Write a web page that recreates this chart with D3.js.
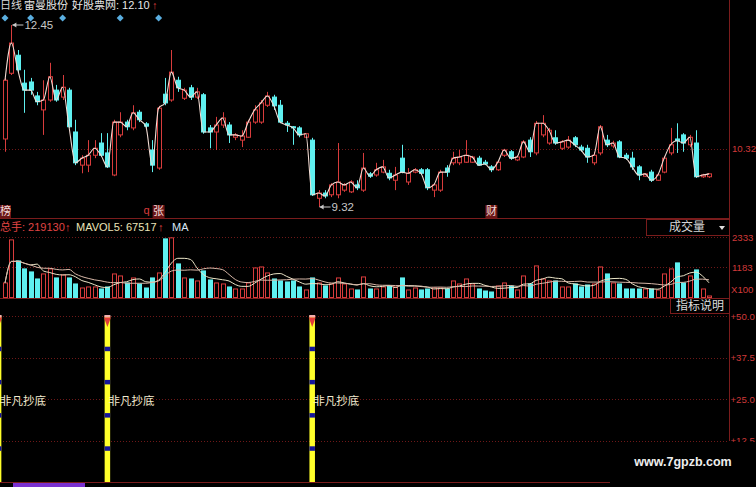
<!DOCTYPE html>
<html><head><meta charset="utf-8">
<script src="https://cdn.jsdelivr.net/npm/d3@7/dist/d3.min.js"></script>
<style>
html,body{margin:0;padding:0;background:#000;overflow:hidden}
svg{display:block}
text{font-family:"Liberation Sans","Noto Sans CJK SC",sans-serif}
</style></head><body>
<svg id="c" width="756" height="487"></svg>
<script>
// ---- data ----
const openP = [10.49,11.62,11.93,11.45,11.47,11.23,10.99,11.16,11.33,11.21,
11.33,10.61,10.04,10.04,10.21,10.42,10.25,9.87,10.56,10.78,
10.68,10.95,10.75,10.30,9.99,11.26,11.16,11.50,11.19,11.37,
11.21,11.25,10.68,10.61,10.73,10.73,10.52,10.47,10.52,10.78,
10.78,11.07,11.21,11.07,10.76,10.70,10.68,10.52,10.47,9.47,
9.56,9.53,9.53,9.61,9.58,9.70,9.61,9.89,9.87,9.92,
9.90,9.78,10.16,9.75,9.92,9.96,9.96,9.61,9.61,9.99,
10.08,10.08,10.09,10.09,10.16,10.09,10.01,9.96,10.21,10.27,
10.13,10.18,10.47,10.25,10.56,10.42,10.51,10.33,10.35,10.51,
10.35,10.33,10.08,10.25,10.47,10.37,10.44,10.21,10.16,10.01,
9.85,9.92,9.78,9.92,10.25,10.49,10.56,10.39,10.42,9.84,
9.84];
const closeP = [11.50,12.14,11.68,11.33,11.33,11.13,11.16,11.56,11.16,11.38,
10.70,10.08,10.16,10.21,10.33,10.21,10.01,10.78,10.78,10.70,
10.94,10.82,10.71,10.04,11.02,11.11,11.64,11.37,11.33,11.21,
11.30,10.61,10.61,10.73,10.85,10.56,10.56,10.54,10.78,10.99,
11.11,11.23,11.06,10.78,10.73,10.68,10.56,10.58,9.53,9.56,
9.51,9.70,9.75,9.70,9.75,9.65,9.99,9.85,9.96,10.01,
9.82,9.87,9.92,9.90,9.96,9.90,9.65,9.70,9.92,9.92,
10.16,10.18,10.21,10.18,10.04,10.06,9.96,10.09,10.30,10.16,
10.18,10.44,10.27,10.76,10.76,10.64,10.42,10.44,10.47,10.39,
10.30,10.18,10.21,10.70,10.39,10.42,10.18,10.16,10.01,9.87,
9.89,9.78,9.87,10.16,10.39,10.46,10.42,10.52,9.84,9.87,
9.89];
const highP = [11.54,12.45,12.02,11.68,11.54,11.30,11.50,11.80,11.42,11.59,
11.37,10.82,10.21,10.47,10.47,10.59,10.59,10.82,10.95,10.82,
11.07,10.99,10.78,10.47,11.06,11.54,12.02,11.56,11.37,11.42,
11.37,11.28,10.73,10.87,10.95,10.78,10.59,10.64,10.82,11.07,
11.16,11.30,11.25,11.16,10.80,10.71,10.71,10.59,10.51,9.61,
9.61,9.73,10.42,9.73,9.78,9.78,10.25,9.92,10.08,10.13,
9.96,10.01,10.39,9.99,9.99,9.99,9.99,9.72,9.96,10.04,
10.27,10.30,10.47,10.20,10.20,10.13,10.04,10.11,10.32,10.30,
10.21,10.47,10.52,10.80,10.90,10.68,10.64,10.47,10.54,10.54,
10.39,10.39,10.27,10.73,10.56,10.46,10.47,10.25,10.27,10.04,
9.90,9.96,9.89,10.20,10.68,10.76,10.59,10.56,10.64,9.89,
9.90];
const lowP = [10.27,11.59,11.64,10.94,11.25,11.07,10.56,11.13,11.13,11.16,
10.68,10.04,9.90,9.92,10.16,10.18,9.99,9.85,10.52,10.64,
10.64,10.78,10.68,9.92,9.96,11.07,11.13,11.30,11.16,11.16,
11.18,10.58,10.33,10.30,10.68,10.42,10.47,10.35,10.51,10.75,
10.75,11.04,10.99,10.76,10.61,10.39,10.52,10.51,9.51,9.32,
9.47,9.49,9.47,9.58,9.56,9.61,9.58,9.82,9.84,9.90,
9.78,9.61,9.90,9.70,9.90,9.87,9.61,9.49,9.58,9.84,
10.04,10.04,10.08,10.08,10.03,10.04,9.92,9.94,10.18,10.13,
10.11,10.16,10.18,10.21,10.52,10.39,10.39,10.30,10.32,10.35,
10.27,10.08,10.04,10.21,10.35,10.33,10.16,10.13,9.96,9.78,
9.84,9.75,9.77,9.90,10.21,10.25,10.27,10.35,9.82,9.82,
9.82];
const volume = [57500,222300,141800,111200,99700,72800,92000,111200,76700,88200,
76700,53700,38300,42200,42200,34500,42200,92000,84300,57500,
76700,53700,38300,76700,95800,226100,230000,130300,76700,72800,
65200,103500,69000,57500,53700,42200,34500,34500,57500,115000,
118800,95800,72800,65200,61300,65200,42200,30700,76700,57500,
46000,53700,76700,53700,34500,30700,80500,34500,34500,42200,
46000,42200,76700,30700,38300,30700,34500,38300,38300,34500,
65200,53700,72800,53700,34500,26800,23000,46000,57500,46000,
30700,84300,53700,122700,72800,65200,65200,42200,42200,53700,
42200,49800,53700,118800,92000,57500,53700,34500,34500,34500,
34500,34500,30700,92000,111200,134200,57500,84300,107300,34500,
7700];
const signalIdx = [-1, 16, 48];
const signalValue = 50;
const signalBands = [10, 20, 30, 40];
const signalText = "非凡抄底";
const signalTextLevel = 24;
const markerIdx = [0, 4, 9, 18, 24];
const eventLabels = [{i:0,t:"榜"},{i:24,t:"张"},{i:76,t:"财"}];
const priceTicks = [10.32];
const volTicks = [233300, 118300];
const sigTicks = [50, 37.5, 25, 12.5];

// ---- drawing ----
const W=756,H=487;
const svg=d3.select("#c");
svg.append("rect").attr("width",W).attr("height",H).attr("fill","#000");
const N=closeP.length;
const x=d3.scaleLinear().domain([0,110]).range([5,709]);
const yP=d3.scaleLinear().domain([9.32,12.45]).range([207,25]);
const yV=d3.scaleLinear().domain([0,233300]).range([298,237]);
const yS=d3.scaleLinear().domain([0,50]).range([482,316]);
const RED="#d83c3c", CYAN="#5ff0f0", AXC="#d03a3a", GRID="#6e1818", LINE="#7a1c1c";
const idx=d3.range(N);
const up=i=>closeP[i]>=openP[i];

// gridlines
const grid=svg.append("g").attr("stroke",GRID).attr("stroke-dasharray","1,2");
grid.selectAll(".gp").data(priceTicks).join("line").attr("x1",0).attr("x2",729).attr("y1",d=>Math.round(yP(d))+0.5).attr("y2",d=>Math.round(yP(d))+0.5);
grid.selectAll(".gv").data(volTicks).join("line").attr("x1",0).attr("x2",729).attr("y1",d=>Math.round(yV(d))+0.5).attr("y2",d=>Math.round(yV(d))+0.5);
grid.selectAll(".gs").data(sigTicks).join("line").attr("x1",0).attr("x2",729).attr("y1",d=>Math.round(yS(d))+0.5).attr("y2",d=>Math.round(yS(d))+0.5);

// panel separators
const sep=svg.append("g").attr("stroke",LINE);
[218.5,298.5,482.5].forEach(y=>sep.append("line").attr("x1",0).attr("x2",729).attr("y1",y).attr("y2",y));
sep.append("line").attr("x1",729.5).attr("x2",729.5).attr("y1",0).attr("y2",441);

// axis labels
const ax=svg.append("g").attr("font-size",9.6).attr("fill",AXC).attr("dominant-baseline","middle");
ax.selectAll(".tp").data(priceTicks).join("text").attr("x",732).attr("y",d=>yP(d)+1).text(d=>d3.format(".2f")(d));
ax.selectAll(".tv").data(volTicks).join("text").attr("x",732).attr("y",d=>yV(d)+1).text(d=>d3.format("d")(Math.round(d/100)));
ax.append("text").attr("x",731).attr("y",290).text("X100");
ax.selectAll(".ts").data(sigTicks).join("text").attr("x",730.5).attr("y",d=>yS(d)+1).text(d=>"+"+d3.format(".1f")(d));

// candles
const cg=svg.append("g");
cg.selectAll(".w").data(idx).join("line")
 .attr("x1",i=>Math.round(x(i))+0.5).attr("x2",i=>Math.round(x(i))+0.5)
 .attr("y1",i=>yP(highP[i])).attr("y2",i=>yP(lowP[i]))
 .attr("stroke",i=>up(i)?RED:CYAN).attr("stroke-width",1);
cg.selectAll(".b").data(idx).join("rect")
 .attr("x",i=>Math.round(x(i))-1.5).attr("width",4)
 .attr("y",i=>yP(Math.max(openP[i],closeP[i])))
 .attr("height",i=>Math.max(1,Math.abs(yP(openP[i])-yP(closeP[i]))))
 .attr("fill",i=>up(i)?"#000":CYAN)
 .attr("stroke",i=>up(i)?RED:CYAN).attr("stroke-width",1);

// close line
svg.append("path").datum(idx)
 .attr("d",d3.line().x(i=>x(i)).y(i=>yP(closeP[i])).curve(d3.curveMonotoneX))
 .attr("fill","none").attr("stroke","#f2dcd4").attr("stroke-width",1.1);

// high / low markers
const hi=d3.maxIndex(highP), lo=d3.minIndex(lowP);
function marker(i,v){
  const yy=yP(v), xx=x(i)+1;
  const g=svg.append("g");
  g.append("line").attr("x1",xx).attr("x2",xx+11).attr("y1",yy).attr("y2",yy).attr("stroke","#c8c8c8");
  g.append("path").attr("d",`M${xx},${yy}L${xx+4},${yy-2.5}L${xx+4},${yy+2.5}Z`).attr("fill","#c8c8c8");
  g.append("text").attr("x",xx+12).attr("y",yy+1).attr("dominant-baseline","middle")
   .attr("font-size",11.5).attr("fill","#c8c8c8").text(d3.format(".2f")(v));
}
marker(hi,highP[hi]); marker(lo,lowP[lo]);

// diamonds
svg.selectAll(".dm").data(markerIdx).join("path")
 .attr("d",i=>{const cx=x(i),cy=18;return `M${cx},${cy-3.5}L${cx+3.5},${cy}L${cx},${cy+3.5}L${cx-3.5},${cy}Z`;})
 .attr("fill","#5aaee0");

// event labels
const ev=svg.append("g");
ev.selectAll("rect").data(eventLabels).join("rect")
 .attr("x",d=>x(d.i)-6).attr("y",205).attr("width",12).attr("height",13).attr("fill","#6a1616");
ev.selectAll("text").data(eventLabels).join("text")
 .attr("x",d=>Math.max(x(d.i),5.5)).attr("y",212).attr("text-anchor","middle").attr("dominant-baseline","middle")
 .attr("font-size",11).attr("fill","#f2dada").text(d=>d.t);
svg.append("text").attr("x",x(24)-15).attr("y",211).attr("dominant-baseline","middle")
 .attr("font-size",11).attr("fill",RED).text("q");

// title
const tt=svg.append("g").attr("font-size",11).attr("dominant-baseline","middle");
tt.append("text").attr("x",0).attr("y",6).attr("fill","#d8d8d8").text("日线");
tt.append("text").attr("x",24).attr("y",6).attr("fill","#e8e8e8").text("雷曼股份");
tt.append("text").attr("x",72).attr("y",6).attr("fill","#e8e8e8").text("好股票网: 12.10");
tt.append("text").attr("x",152).attr("y",6).attr("fill",RED).attr("font-weight","bold").text("↑");

// volume bars
const vg=svg.append("g");
vg.selectAll("rect").data(idx).join("rect")
 .attr("x",i=>Math.round(x(i))-1.5).attr("width",4)
 .attr("y",i=>yV(volume[i])).attr("height",i=>Math.max(0.5,yV(0)-yV(volume[i])-0.5))
 .attr("fill",i=>up(i)?"none":CYAN).attr("stroke",i=>up(i)?RED:CYAN).attr("stroke-width",1);
function ma(arr,n){return arr.map((v,i)=>d3.mean(arr.slice(Math.max(0,i-n+1),i+1)));}
const ma5=ma(volume,5), ma10=ma(volume,10);
const vl=d3.line().x((d,i)=>x(i)).y(d=>yV(d)).curve(d3.curveMonotoneX);
svg.append("path").datum(ma5).attr("d",vl).attr("fill","none").attr("stroke","#ece6c8").attr("stroke-width",1);
svg.append("path").datum(ma10).attr("d",vl).attr("fill","none").attr("stroke","#d8b8a8").attr("stroke-width",1);

// volume title
const vt=svg.append("g").attr("font-size",11).attr("dominant-baseline","middle");
vt.append("text").attr("x",0).attr("y",228).attr("fill","#e04444").text("总手: 219130");
vt.append("text").attr("x",65).attr("y",228).attr("fill","#e04444").attr("font-weight","bold").text("↑");
vt.append("text").attr("x",76).attr("y",228).attr("fill","#ece4b8").text("MAVOL5: 67517");
vt.append("text").attr("x",158).attr("y",228).attr("fill","#e04444").attr("font-weight","bold").text("↑");
vt.append("text").attr("x",172).attr("y",228).attr("fill","#d8e6f4").text("MA");

// boxes
svg.append("rect").attr("x",646.5).attr("y",219.5).attr("width",83).attr("height",16).attr("fill","#000").attr("stroke",LINE);
svg.append("text").attr("x",687).attr("y",228).attr("text-anchor","middle").attr("dominant-baseline","middle").attr("font-size",12).attr("fill","#d6d6d6").text("成交量");
svg.append("path").attr("d","M719,226L725,226L722,230Z").attr("fill","#e0e0e0");
svg.append("rect").attr("x",670.5).attr("y",298.5).attr("width",59).attr("height",15).attr("fill","#000").attr("stroke",LINE);
svg.append("text").attr("x",700).attr("y",306.5).attr("text-anchor","middle").attr("dominant-baseline","middle").attr("font-size",12).attr("fill","#dcdcdc").text("指标说明");

// signal sticks
const sg=svg.append("g");
signalIdx.forEach(s=>{
  const cx=x(s);
  sg.append("rect").attr("x",cx-2.75).attr("width",5.5).attr("y",yS(signalValue)).attr("height",yS(0)-yS(signalValue)).attr("fill","#ffff2a");
  signalBands.forEach(b=>sg.append("rect").attr("x",cx-2.75).attr("width",5.5).attr("y",yS(b)-2.5).attr("height",4.5).attr("fill","#14149a"));
  sg.append("rect").attr("x",cx-3).attr("width",6).attr("y",yS(signalValue)-1).attr("height",2.5).attr("fill","#f4b0b0");
  sg.append("path").attr("d",`M${cx-3.5},${yS(signalValue)+1.5}L${cx+3.5},${yS(signalValue)+1.5}L${cx},${yS(signalValue)+11}Z`).attr("fill","#e23a3a");
  sg.append("text").attr("x",Math.max(cx+1,0)).attr("y",yS(signalTextLevel)).attr("dominant-baseline","middle")
    .attr("font-size",11.5).attr("fill","#f2ead0").text(signalText);
});

// date row stub
svg.append("rect").attr("x",13).attr("y",483).attr("width",72).attr("height",4).attr("fill","#7a30d0");

// watermark
svg.append("rect").attr("x",610).attr("y",442).attr("width",146).attr("height",45).attr("fill","#000");
svg.append("text").attr("x",683).attr("y",463).attr("text-anchor","middle").attr("dominant-baseline","middle")
 .attr("font-size",12.5).attr("font-weight","bold").attr("fill","#eeeeee").text("www.7gpzb.com");
</script>
</body></html>
